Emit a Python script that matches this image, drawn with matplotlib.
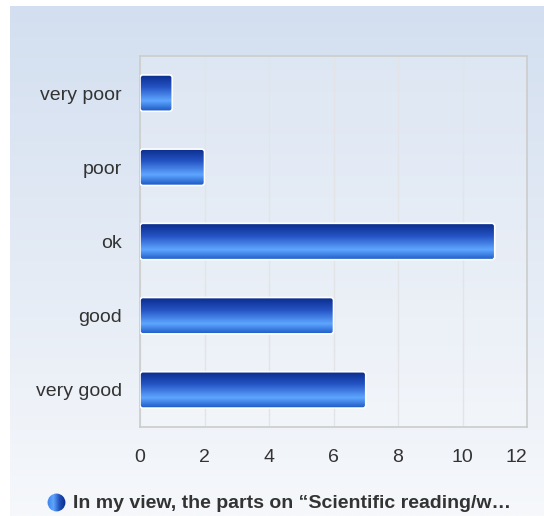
import numpy as np
import matplotlib
matplotlib.use("Agg")
import matplotlib.pyplot as plt
from matplotlib.patches import FancyBboxPatch, Circle
from matplotlib.colors import LinearSegmentedColormap

categories = ["very poor", "poor", "ok", "good", "very good"]
values = [1, 2, 11, 6, 7]
xticks = [0, 2, 4, 6, 8, 10, 12]
legend_label = "In my view, the parts on \u201cScientific reading/w\u2026"

plt.rcParams['font.family'] = ['Liberation Sans', 'DejaVu Sans']

W, H = 544, 516
fig = plt.figure(figsize=(W / 100, H / 100), dpi=100)
fig.patch.set_facecolor("white")

# background panel gradient
bg = fig.add_axes([10 / W, 0, 1 - 10 / W, 1 - 6 / H], zorder=0)
bg_cmap = LinearSegmentedColormap.from_list("bg", ["#d3dff0", "#e4ebf5", "#f6f8fb"])
grad = np.linspace(0, 1, 256).reshape(-1, 1)
bg.imshow(grad, aspect="auto", cmap=bg_cmap, extent=(0, 1, 0, 1), origin="upper")
bg.set_axis_off()

ax = fig.add_axes([140 / W, 1 - 427 / H, 387 / W, 371 / H], zorder=1)
ax.set_facecolor((1, 1, 1, 0.18))
n = len(categories)
ypos = np.arange(n)
bars = ax.barh(ypos, values, height=0.49, color="none", edgecolor="none")
ax.set_xlim(0, 12)
ax.set_ylim(n - 0.5, -0.5)

bar_cmap = LinearSegmentedColormap.from_list(
    "bar", [(0, "#0a2a88"), (0.35, "#2453c4"), (0.72, "#5ea6ff"), (1.0, "#1c58c4")])
for b in bars:
    x0, y0 = b.get_x(), b.get_y()
    w, h = b.get_width(), b.get_height()
    patch = FancyBboxPatch((x0, y0), w, h,
                           boxstyle="round,pad=0,rounding_size=0.09",
                           mutation_aspect=0.43,
                           facecolor="none", edgecolor="white", lw=1.2, zorder=4)
    ax.add_patch(patch)
    img = ax.imshow(grad, aspect="auto", cmap=bar_cmap,
                    extent=(x0, x0 + w, y0 + h, y0), origin="upper", zorder=3)
    img.set_clip_path(patch)

ax.set_xlim(0, 12)
ax.set_ylim(n - 0.5, -0.5)

for xt in xticks:
    ax.axvline(xt, color="#e2e4e8", lw=1, zorder=1)

ax.set_xticks(xticks)
ax.set_xticklabels([str(t) for t in xticks])
ax.set_yticks(ypos)
ax.set_yticklabels(categories)
ax.tick_params(axis="both", length=0, labelsize=14, labelcolor="#333333")
ax.tick_params(axis="x", pad=16)
ax.tick_params(axis="y", pad=13)
lbls = ax.get_xticklabels()
lbls[-1].set_horizontalalignment("right")
for s in ax.spines.values():
    s.set_color("#cccccc")
    s.set_linewidth(1.2)

# legend marker
lm = fig.add_axes([47 / W, 1 - 512 / H, 19 / W, 19 / H], zorder=2)
lm.set_xlim(0, 1)
lm.set_ylim(0, 1)
lm.set_axis_off()
leg_cmap = LinearSegmentedColormap.from_list("leg", ["#3a7fe8", "#5ea6ff", "#1e50b8", "#0a2a88"])
hgrad = np.linspace(0, 1, 256).reshape(1, -1)
im = lm.imshow(hgrad, aspect="auto", cmap=leg_cmap, extent=(0, 1, 0, 1))
c = Circle((0.5, 0.5), 0.47, transform=lm.transData, facecolor="none", edgecolor="none")
lm.add_patch(c)
im.set_clip_path(c)

fig.text(73 / W, 1 - 503 / H, legend_label, fontsize=14, fontweight="bold",
         color="#333333", ha="left", va="center")

fig.savefig("out.png", dpi=100, facecolor="white")
